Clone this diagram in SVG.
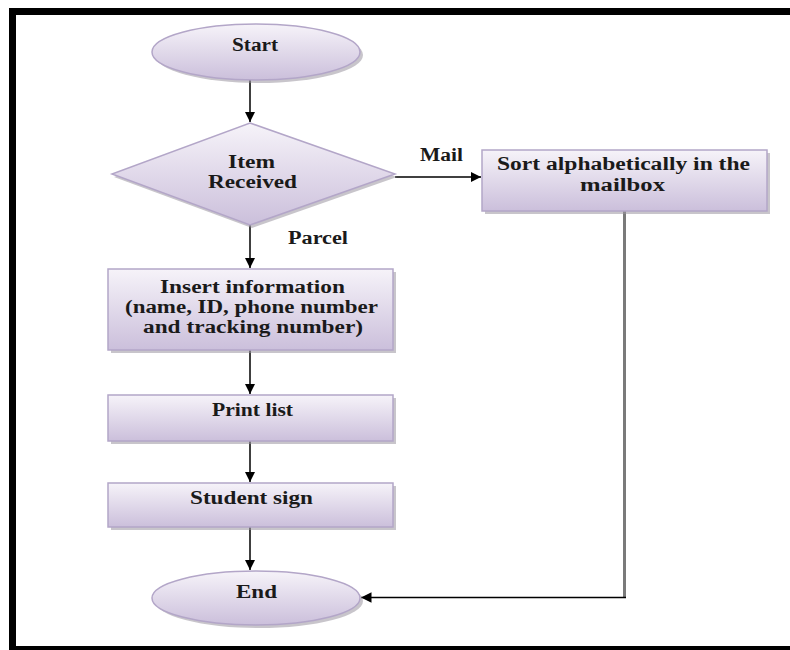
<svg xmlns="http://www.w3.org/2000/svg" width="790" height="650" viewBox="0 0 790 650">
  <style>
    .shape { fill: url(#lav); stroke: #b3a6c8; stroke-width: 1.5; }
    .shadow { fill: #9a96a0; opacity: 0.55; }
    .lbl { font-family: "Liberation Serif", "Times New Roman", serif; font-size: 18px; font-weight: bold; fill: #1a1a1a; text-anchor: middle; }
    .flow { stroke: #000; stroke-width: 1.5; fill: none; }
  </style>
  <defs>
    <linearGradient id="lav" x1="0" y1="0" x2="0" y2="1">
      <stop offset="0" stop-color="#f6f3f9"/>
      <stop offset="1" stop-color="#cbbfdb"/>
    </linearGradient>
    <marker id="head" viewBox="0 0 10 10" refX="10" refY="5" markerWidth="7" markerHeight="7" orient="auto">
      <path d="M0,0 L10,5 L0,10 z" fill="#000"/>
    </marker>
  </defs>

  <rect width="790" height="650" fill="#fff"/>

  <!-- page frame -->
  <g id="frame" fill="#000">
    <rect x="9" y="8" width="781" height="7"/>
    <rect x="9" y="8" width="7" height="642"/>
    <rect x="9" y="646" width="781" height="4"/>
  </g>

  <!-- connectors -->
  <g id="connectors">
    <line class="flow" x1="250" y1="80" x2="250" y2="122" marker-end="url(#head)"/>
    <line class="flow" x1="250" y1="225" x2="250" y2="268" marker-end="url(#head)"/>
    <line class="flow" x1="250" y1="350" x2="250" y2="394" marker-end="url(#head)"/>
    <line class="flow" x1="250" y1="441" x2="250" y2="482" marker-end="url(#head)"/>
    <line class="flow" x1="250" y1="527" x2="250" y2="570" marker-end="url(#head)"/>
    <line class="flow" x1="395" y1="177" x2="481" y2="177" marker-end="url(#head)"/>
    <line x1="624.5" y1="211" x2="624.5" y2="598" stroke="#7a7a7a" stroke-width="3"/>
    <line class="flow" x1="626" y1="597.5" x2="361" y2="597.5" marker-end="url(#head)"/>
    <text class="lbl" x="441.5" y="161" textLength="43" lengthAdjust="spacingAndGlyphs">Mail</text>
    <text class="lbl" x="318" y="244" textLength="60" lengthAdjust="spacingAndGlyphs">Parcel</text>
  </g>

  <g id="start">
    <ellipse class="shadow" cx="259" cy="55" rx="104" ry="28"/>
    <ellipse class="shape" cx="256" cy="52" rx="104" ry="28"/>
    <text class="lbl" x="255" y="51" textLength="46" lengthAdjust="spacingAndGlyphs">Start</text>
  </g>

  <g id="item-received">
    <polygon class="shadow" points="252,126 397,177 252,228 114,177"/>
    <polygon class="shape" points="250,123 395,174 250,225 112,174"/>
    <text class="lbl" x="251.5" y="168" textLength="47" lengthAdjust="spacingAndGlyphs">Item</text>
    <text class="lbl" x="252.5" y="188" textLength="89" lengthAdjust="spacingAndGlyphs">Received</text>
  </g>

  <g id="sort-mailbox">
    <rect class="shadow" x="485" y="153" width="285" height="61"/>
    <rect class="shape" x="482" y="150" width="285" height="61"/>
    <text class="lbl" x="623.5" y="170" textLength="253" lengthAdjust="spacingAndGlyphs">Sort alphabetically in the</text>
    <text class="lbl" x="622.5" y="191" textLength="85" lengthAdjust="spacingAndGlyphs">mailbox</text>
  </g>

  <g id="insert-info">
    <rect class="shadow" x="111" y="272" width="285" height="81"/>
    <rect class="shape" x="108" y="269" width="285" height="81"/>
    <text class="lbl" x="252.5" y="293" textLength="185" lengthAdjust="spacingAndGlyphs">Insert information</text>
    <text class="lbl" x="251.5" y="313" textLength="253" lengthAdjust="spacingAndGlyphs">(name, ID, phone number</text>
    <text class="lbl" x="253" y="333" textLength="220" lengthAdjust="spacingAndGlyphs">and tracking number)</text>
  </g>

  <g id="print-list">
    <rect class="shadow" x="111" y="398" width="285" height="46"/>
    <rect class="shape" x="108" y="395" width="285" height="46"/>
    <text class="lbl" x="252.5" y="416" textLength="81" lengthAdjust="spacingAndGlyphs">Print list</text>
  </g>

  <g id="student-sign">
    <rect class="shadow" x="111" y="486" width="285" height="44"/>
    <rect class="shape" x="108" y="483" width="285" height="44"/>
    <text class="lbl" x="251.5" y="504" textLength="123" lengthAdjust="spacingAndGlyphs">Student sign</text>
  </g>

  <g id="end">
    <ellipse class="shadow" cx="259" cy="601" rx="104" ry="27"/>
    <ellipse class="shape" cx="256" cy="598" rx="104" ry="27"/>
    <text class="lbl" x="256.5" y="598" textLength="41" lengthAdjust="spacingAndGlyphs">End</text>
  </g>
</svg>
